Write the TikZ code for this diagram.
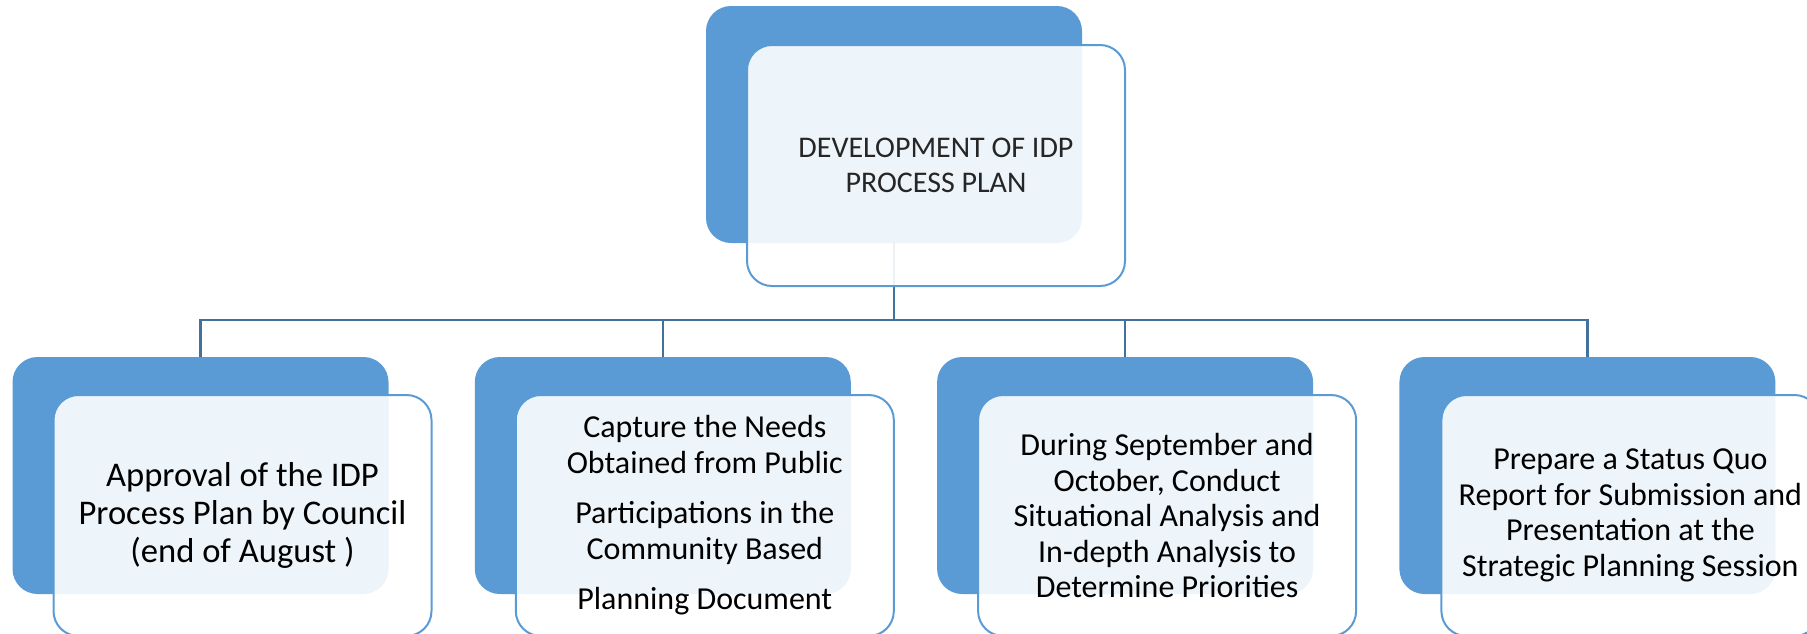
\documentclass[tikz,border=0pt]{standalone}
\usepackage{fontspec}
\setmainfont{Carlito}
\definecolor{accent}{HTML}{5B9BD5}
\definecolor{linkc}{HTML}{41719C}
\pgfdeclarelayer{bg}
\pgfsetlayers{bg,main}
\tikzset{
  backbox/.style={rectangle, rounded corners=12.5pt, fill=accent, draw=none,
    minimum width=188pt, minimum height=118.5pt, inner sep=0pt},
  frontbox/.style={rectangle, rounded corners=12.5pt, fill=white, fill opacity=0.9,
    text opacity=1, draw=accent, draw opacity=1, line width=1pt,
    minimum width=189pt, minimum height=120.5pt, inner sep=0pt, align=center,
    text=black},
  link/.style={draw=linkc, line width=1.2pt},
  bigtxt/.style={font=\fontsize{17.3pt}{19pt}\selectfont},
  midtxt/.style={font=\fontsize{16pt}{17.75pt}\selectfont},
  toptxt/.style={font=\fontsize{15pt}{17.5pt}\selectfont, text=black!85}
}
\begin{document}
\begin{tikzpicture}[x=0.5pt, y=-0.5pt]
\clip (0,0) rectangle (1807,633);
% top
\node[backbox] (t0) at (894,124.5) {};
\node[frontbox, toptxt] (t1) at (936,165.5) {DEVELOPMENT OF IDP\\PROCESS PLAN};
% bottom back boxes
\node[backbox] (b1) at (200.5,475.5) {};
\node[backbox] (b2) at (662.8,475.5) {};
\node[backbox] (b3) at (1125.1,475.5) {};
\node[backbox] (b4) at (1587.4,475.5) {};
% bottom front boxes
\node[frontbox, bigtxt] (f1) at (242.5,515.5) {Approval of the IDP\\Process Plan by Council\\(end of August )};
\node[frontbox, midtxt] (f2) at (704.8,515.5) {Capture the Needs\\Obtained from Public\\[7.5pt]Participations in the\\Community Based\\[7.5pt]Planning Document};
\node[frontbox, midtxt] (f3) at (1167.1,515.5) {During September and\\October, Conduct\\Situational Analysis and\\In-depth Analysis to\\Determine Priorities};
\node[frontbox, midtxt] (f4) at (1630.4,515.5) {Prepare a Status Quo\\Report for Submission and\\Presentation at the\\Strategic Planning Session};
% connectors
\coordinate (hj) at (894,320);
\begin{pgfonlayer}{bg}
\draw[link] (t0.south) -- (hj);
\draw[link] (b1.north) |- (hj) -| (b4.north);
\draw[link] (b2.north) -- (b2.north |- hj);
\draw[link] (b3.north) -- (b3.north |- hj);
\end{pgfonlayer}
\end{tikzpicture}
\end{document}
